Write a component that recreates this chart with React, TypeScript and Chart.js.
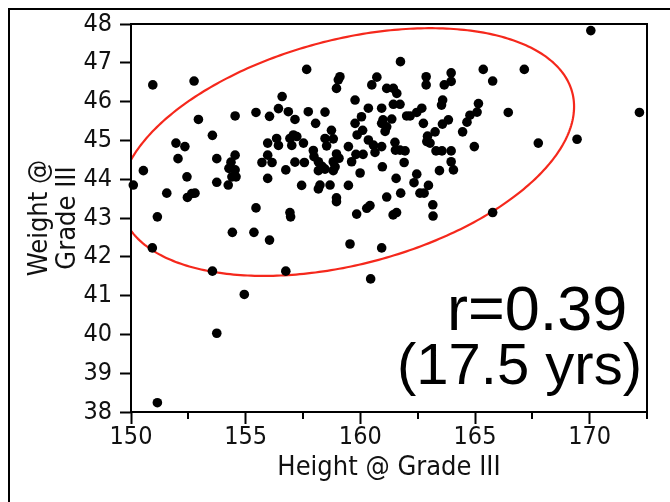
import React, { useEffect, useRef } from 'react';
import { Chart, registerables } from 'chart.js';

Chart.register(...registerables);

// Height @ Grade III (x)
const heights: number[] = [
  150.95, 152.75, 150.10, 150.54, 151.56, 151.15, 151.96, 152.35, 152.05, 152.44,
  152.65, 152.79, 152.46, 152.94, 153.55, 153.74, 153.74, 150.93, 153.55, 153.74,
  151.15, 154.24, 154.54, 154.54, 154.36, 154.27, 154.54, 154.40, 154.58, 154.42,
  154.94, 155.45, 156.04, 155.45, 155.36, 156.04, 155.96, 155.96, 155.71, 156.15,
  155.96, 156.35, 156.43, 156.43, 156.59, 156.86, 156.75, 156.93, 157.08, 157.23,
  157.01, 157.15, 157.15, 157.56, 157.52, 157.44, 156.93, 156.96, 156.75, 157.66,
  157.73, 158.05, 158.46, 157.95, 157.98, 158.17, 158.33, 158.17, 158.46, 158.24,
  158.17, 158.46, 158.53, 158.74, 158.82, 158.68, 158.96, 159.07, 158.82, 158.90,
  158.82, 158.96, 158.96, 159.11, 159.04, 158.96, 159.48, 159.48, 159.77, 159.84,
  159.77, 159.86, 159.81, 160.12, 160.10, 159.99, 160.05, 160.35, 160.28, 160.42,
  160.35, 160.57, 160.64, 160.93, 160.50, 160.72, 159.55, 160.45, 160.93, 159.62,
  160.93, 160.93, 161.15, 160.99, 161.37, 161.08, 160.96, 161.15, 161.44, 161.59,
  161.15, 161.44, 161.73, 161.43, 161.58, 161.75, 161.51, 161.53, 161.73, 161.95,
  161.56, 161.76, 161.91, 162.87, 162.87, 163.96, 163.96, 163.66, 162.68, 162.46,
  162.02, 162.17, 163.59, 163.54, 162.75, 162.93, 162.90, 163.04, 163.26, 163.84,
  163.58, 163.30, 163.56, 163.96, 163.96, 164.06, 163.45, 162.46, 162.34, 162.97,
  162.60, 162.78, 163.16, 163.17, 165.36, 165.77, 167.15, 165.15, 165.09, 164.78,
  164.65, 164.46, 166.45, 164.97, 167.76, 169.45, 165.77, 170.05, 172.17,
];

// Weight @ Grade III (y)
const weights: number[] = [
  46.43, 46.53, 43.85, 44.22, 43.64, 43.03, 44.93, 44.84, 44.53, 44.06,
  43.63, 43.64, 43.53, 45.54, 45.13, 44.53, 43.92, 42.23, 41.63, 40.03,
  38.24, 43.85, 45.63, 44.62, 44.44, 44.28, 44.24, 44.06, 44.06, 42.63,
  41.03, 45.72, 45.62, 43.26, 42.63, 42.43, 44.93, 44.62, 44.43, 44.43,
  44.02, 45.05, 44.87, 45.82, 46.13, 45.74, 44.24, 45.05, 45.14, 45.10,
  44.87, 45.54, 44.44, 44.43, 44.93, 43.84, 43.14, 43.03, 41.63, 46.83,
  45.74, 45.44, 45.73, 44.74, 44.58, 44.45, 44.33, 44.22, 44.26, 43.85,
  43.75, 45.05, 44.86, 45.26, 45.04, 43.85, 44.65, 44.54, 44.45, 44.32,
  44.22, 43.52, 43.42, 46.64, 46.56, 46.34, 44.84, 43.84, 46.04, 43.10,
  45.44, 45.14, 44.64, 44.64, 45.26, 44.16, 45.61, 45.83, 43.25, 43.32,
  45.01, 44.88, 44.69, 44.84, 46.43, 46.63, 42.33, 41.43, 42.23, 44.45,
  45.83, 45.44, 45.35, 45.53, 45.55, 45.23, 44.32, 46.34, 46.34, 46.21,
  43.54, 45.93, 45.93, 43.08, 43.14, 47.03, 44.95, 44.75, 44.75, 44.73,
  44.02, 43.64, 44.43, 46.64, 46.43, 46.74, 46.52, 46.43, 45.83, 45.72,
  45.63, 45.63, 46.04, 45.91, 45.44, 45.11, 44.97, 44.93, 45.22, 45.53,
  45.42, 44.73, 44.73, 44.73, 44.45, 44.24, 44.22, 44.13, 43.91, 43.84,
  43.64, 43.64, 43.34, 43.05, 46.83, 46.53, 46.83, 45.95, 45.73, 45.65,
  45.47, 45.22, 45.72, 44.84, 44.93, 45.03, 43.14, 47.83, 45.72,
];

const X_MIN = 150;
const X_MAX = 172.5;
const X_STEP = 2.5;
const X_LABEL_EVERY = 5;
const Y_MIN = 38;
const Y_MAX = 48;
const Y_STEP = 1;

const X_TITLE = 'Height @ Grade III';
const Y_TITLE = ['Weight @', 'Grade III'];
const NOTE_LINES = ['r=0.39', '(17.5 yrs)'];

// ellipse in data units: center + two conjugate half-axis vectors
const ELLIPSE_CENTER = { x: 159.42, y: 44.7 };
const ELLIPSE_U = { x: 9.9, y: 1.17 };
const ELLIPSE_V = { x: 0, y: 2.97 };

const AXIS_FONT = '"DejaVu Sans Condensed", "Liberation Sans Narrow", "DejaVu Sans", sans-serif';
const NOTE_FONT = '"Liberation Sans", Arial, Helvetica, sans-serif';

const overlayPlugin = {
  id: 'overlay',
  beforeDatasetsDraw(chart: any) {
    const { ctx, chartArea, scales } = chart;
    const xs = scales.x;
    const ys = scales.y;
    ctx.save();
    ctx.beginPath();
    ctx.rect(chartArea.left, chartArea.top, chartArea.right - chartArea.left, chartArea.bottom - chartArea.top);
    ctx.clip();
    ctx.beginPath();
    const n = 360;
    for (let i = 0; i <= n; i++) {
      const t = (i / n) * Math.PI * 2;
      const vx = ELLIPSE_CENTER.x + ELLIPSE_U.x * Math.cos(t) + ELLIPSE_V.x * Math.sin(t);
      const vy = ELLIPSE_CENTER.y + ELLIPSE_U.y * Math.cos(t) + ELLIPSE_V.y * Math.sin(t);
      const px = xs.getPixelForValue(vx);
      const py = ys.getPixelForValue(vy);
      if (i === 0) ctx.moveTo(px, py);
      else ctx.lineTo(px, py);
    }
    ctx.closePath();
    ctx.strokeStyle = '#f5281c';
    ctx.lineWidth = 2.2;
    ctx.stroke();
    ctx.restore();
  },
  afterDraw(chart: any) {
    const { ctx, chartArea, scales } = chart;
    ctx.save();
    // plot frame
    ctx.strokeStyle = '#000';
    ctx.lineWidth = 2;
    ctx.strokeRect(chartArea.left, chartArea.top, chartArea.right - chartArea.left, chartArea.bottom - chartArea.top);
    // minor ticks on x
    const xs = scales.x;
    ctx.beginPath();
    for (const tk of xs.ticks) {
      if (Math.abs(tk.value % X_LABEL_EVERY) > 1e-6) {
        const px = Math.round(xs.getPixelForValue(tk.value));
        ctx.moveTo(px, chartArea.bottom);
        ctx.lineTo(px, chartArea.bottom + 7);
      }
    }
    ctx.stroke();
    // annotation text
    ctx.fillStyle = '#000';
    ctx.textBaseline = 'alphabetic';
    ctx.textAlign = 'left';
    ctx.font = `63px ${NOTE_FONT}`;
    ctx.fillText(NOTE_LINES[0], 439, 322);
    ctx.font = `58px ${NOTE_FONT}`;
    ctx.fillText(NOTE_LINES[1], 389, 376);
    ctx.restore();
  },
};

export default function App() {
  const canvasRef = useRef<HTMLCanvasElement | null>(null);

  useEffect(() => {
    document.body.style.overflow = 'hidden';
    const canvas = canvasRef.current;
    if (!canvas) return;
    const points = heights.map((h, i) => ({ x: h, y: weights[i] }));
    const chart = new Chart(canvas, {
      type: 'scatter',
      data: {
        datasets: [
          {
            data: points,
            backgroundColor: '#000',
            borderWidth: 0,
            pointRadius: 4.8,
            pointHoverRadius: 4.8,
            clip: false as any,
          },
        ],
      },
      options: {
        animation: false,
        responsive: false,
        devicePixelRatio: 1,
        layout: { padding: { left: 0, top: 16, right: 23, bottom: 0 } },
        plugins: {
          legend: { display: false },
          tooltip: { enabled: false },
          title: { display: false },
        },
        scales: {
          x: {
            type: 'linear',
            min: X_MIN,
            max: X_MAX,
            border: { display: false },
            grid: {
              display: true,
              drawOnChartArea: false,
              drawTicks: true,
              tickLength: 12,
              tickWidth: 2,
              tickColor: (c: any) =>
                c.tick && Math.abs(c.tick.value % X_LABEL_EVERY) < 1e-6 ? '#000' : 'rgba(0,0,0,0)',
            },
            ticks: {
              stepSize: X_STEP,
              autoSkip: false,
              maxRotation: 0,
              padding: -2,
              color: '#111',
              font: { family: AXIS_FONT, size: 25 },
              callback: (v: any) => (Math.abs(Number(v) % X_LABEL_EVERY) < 1e-6 ? String(v) : ''),
            },
            title: {
              display: true,
              text: X_TITLE,
              color: '#111',
              font: { family: AXIS_FONT, size: 27, lineHeight: 1.38 },
              padding: { top: 0, bottom: 15.4 },
            },
            afterFit: (scale: any) => {
              scale.height = 90;
              scale.paddingLeft = 0;
              scale.paddingRight = 0;
            },
          },
          y: {
            type: 'linear',
            min: Y_MIN,
            max: Y_MAX,
            border: { display: false },
            grid: {
              display: true,
              drawOnChartArea: false,
              drawTicks: true,
              tickLength: 11,
              tickWidth: 2,
              tickColor: '#000',
            },
            ticks: {
              stepSize: Y_STEP,
              padding: 8,
              color: '#111',
              font: { family: AXIS_FONT, size: 25 },
            },
            title: {
              display: true,
              text: Y_TITLE,
              color: '#111',
              font: { family: AXIS_FONT, size: 27, lineHeight: 1.05 },
              padding: { top: 17.8, bottom: 0 },
            },
            afterFit: (scale: any) => {
              scale.width = 123;
              scale.paddingTop = 0;
              scale.paddingBottom = 0;
            },
          },
        },
      },
      plugins: [overlayPlugin],
    });
    return () => chart.destroy();
  }, []);

  return (
    <div
      style={{
        position: 'fixed',
        left: 8,
        top: 8,
        width: 662,
        height: 494,
        overflow: 'hidden',
        background: '#fff',
      }}
    >
      <div
        style={{
          position: 'absolute',
          left: 0,
          top: 0,
          width: 720,
          height: 620,
          borderLeft: '2px solid #000',
          borderTop: '2px solid #000',
          boxSizing: 'border-box',
        }}
      />
      <canvas
        ref={canvasRef}
        width={662}
        height={494}
        style={{ position: 'absolute', left: 0, top: 0, width: 662, height: 494 }}
      />
    </div>
  );
}
